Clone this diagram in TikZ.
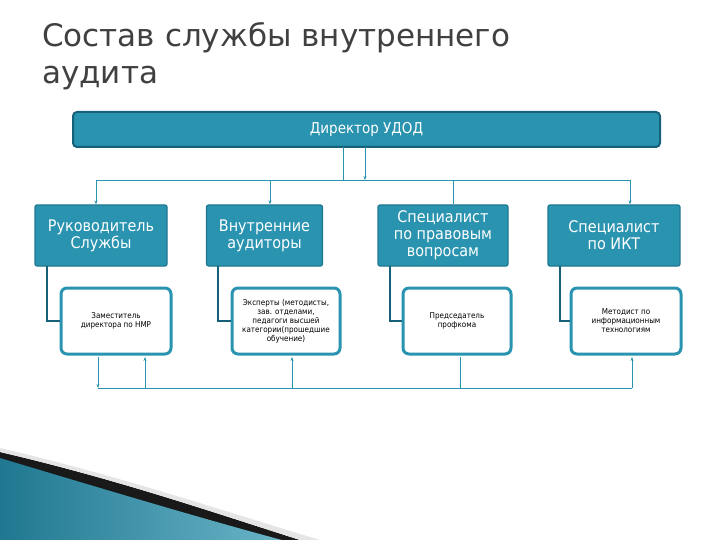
\documentclass[tikz,border=0pt]{standalone}
\usepackage{fontspec}
\setmainfont{DejaVu Sans Condensed}
\newfontfamily\titlefont{DejaVu Sans}
\usetikzlibrary{arrows.meta}
\definecolor{teal1}{HTML}{2A93B0}
\definecolor{teal2}{HTML}{1F7890}
\definecolor{tealdark}{HTML}{17607A}
\begin{document}
\begin{tikzpicture}[x=1pt,y=-1pt,
  topbox/.style={draw=teal2,line width=1.2pt,fill=teal1,rounded corners=2pt,text=white,align=center,inner sep=0pt,font=\fontsize{16}{17}\selectfont},
  subbox/.style={draw=teal1,line width=3pt,fill=white,rounded corners=6pt,align=center,inner sep=0pt,font=\fontsize{8}{9}\selectfont},
  conn/.style={draw=teal1,line width=0.8pt},
  arr/.style={conn,-{Stealth[length=4pt,width=3pt]}},
  elb/.style={draw=tealdark,line width=2.5pt}]
\useasboundingbox (0,0) rectangle (720,540);
% decoration
\fill[black!90] (0,452) .. controls (120,480) and (220,515) .. (300,540) -- (280,540) .. controls (200,520) and (100,490) .. (0,460) -- cycle;
\fill[left color=teal2,right color=teal1!70] (0,458) .. controls (100,488) and (200,518) .. (282,540) -- (0,540) -- cycle;
\fill[gray!20] (0,448) .. controls (120,476) and (220,510) .. (320,540) -- (300,540) .. controls (220,514) and (120,480) .. (0,452) -- cycle;
% title
\node[anchor=north west,font=\titlefont\fontsize{31}{37}\selectfont,align=left,text=black!75,inner sep=0pt] (title) at (42,22) {Состав службы внутреннего\\аудита};
% director
\node[draw=tealdark,line width=2pt,fill=teal1,rounded corners=4pt,text=white,minimum width=587pt,minimum height=35pt,font=\fontsize{15}{15}\selectfont] (dir) at (366.5,129.5) {Директор УДОД};
% top boxes
\node[topbox,minimum width=132pt,minimum height=61pt] (t1) at (101,235.5) {Руководитель\\Службы};
\node[topbox,minimum width=116pt,minimum height=61pt] (t2) at (264.5,235.5) {Внутренние\\аудиторы};
\node[topbox,minimum width=130pt,minimum height=61pt] (t3) at (443,235.5) {Специалист\\по правовым\\вопросам};
\node[topbox,minimum width=132pt,minimum height=61pt] (t4) at (614,235.5) {Специалист\\по ИКТ};
% sub boxes
\node[subbox,minimum width=110pt,minimum height=66pt] (s1) at (116,321) {Заместитель\\директора по НМР};
\node[subbox,minimum width=108pt,minimum height=66pt] (s2) at (286,321) {Эксперты (методисты,\\зав. отделами,\\педагоги высшей\\категории(прошедшие\\обучение)};
\node[subbox,minimum width=108pt,minimum height=66pt] (s3) at (457,321) {Председатель\\профкома};
\node[subbox,minimum width=110pt,minimum height=66pt] (s4) at (626,321) {Методист по\\информационным\\технологиям};
% elbows
\draw[elb] (47,266) |- (s1.west);
\draw[elb] (218,266) |- (s2.west);
\draw[elb] (390,266) |- (s3.west);
\draw[elb] (560,266) |- (s4.west);
% director connectors
\coordinate (h1) at (96,180);
\coordinate (h2) at (630,180);
\draw[conn] (343,147) -- (343,180);
\draw[arr] (365,147) -- (365,180);
\draw[conn] (h1) -- (h2);
\draw[arr] (h1) -- (t1.north -| h1);
\draw[arr] (270,180) -- (t2.north -| 270,0);
\draw[conn] (453,180) -- (t3.north -| 453,0);
\draw[arr] (h2) -- (t4.north -| h2);
% bottom connectors
\coordinate (b1) at (98,388);
\coordinate (b2) at (632,388);
\draw[conn] (b1) -- (b2);
\draw[arr] (98,357) -- (b1);
\draw[arr] (145,388) -- (145,357);
\draw[arr] (292,388) -- (292,357);
\draw[conn] (460,357) -- (460,388);
\draw[arr] (b2) -- (632,357);
\end{tikzpicture}
\end{document}
